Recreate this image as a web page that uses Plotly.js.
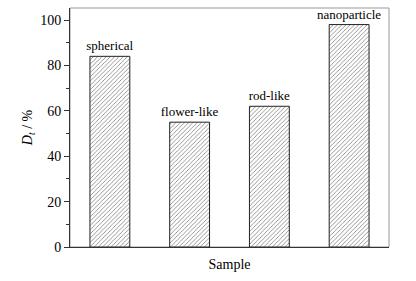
<!DOCTYPE html>
<html>
<head>
<meta charset="utf-8">
<script src="https://cdn.plot.ly/plotly-3.0.1.min.js"></script>
<style>html,body{margin:0;padding:0;background:#fff;}#chart{width:416px;height:281px;}</style>
</head>
<body>
<div id="chart"></div>
<script>
var categories = ["spherical", "flower-like", "rod-like", "nanoparticle"];
var values = [84, 55, 62, 98];
var yTickVals = [0, 20, 40, 60, 80, 100];
var yTickText = ["0", "20", "40", "60", "80", "100"];

var serif = "Times New Roman, Times, Liberation Serif, serif";

var trace = {
  type: "bar",
  x: categories,
  y: values,
  text: categories,
  textposition: "outside",
  constraintext: "none",
  textfont: {family: serif, size: 13, color: "#000"},
  cliponaxis: false,
  width: 0.5,
  marker: {
    color: "#fff",
    line: {color: "#222", width: 1},
    pattern: {shape: "/", size: 3, solidity: 0.25, fgcolor: "#777", bgcolor: "#fff"}
  },
  hoverinfo: "none"
};

var layout = {
  width: 416, height: 281,
  margin: {l: 70, r: 27, t: 8, b: 34},
  paper_bgcolor: "#fff", plot_bgcolor: "#fff",
  showlegend: false,
  font: {family: serif, size: 14, color: "#000"},
  xaxis: {
    type: "category",
    range: [-0.5, 3.5],
    showticklabels: false,
    ticks: "",
    showgrid: false,
    zeroline: false,
    showline: true, linecolor: "#333", linewidth: 1,
    title: {text: "Sample", font: {family: serif, size: 14}, standoff: 12}
  },
  yaxis: {
    range: [0, 105.3],
    tickvals: yTickVals, ticktext: yTickText,
    ticks: "outside", ticklen: 5, tickwidth: 1, tickcolor: "#333",
    minor: {dtick: 10, tick0: 0, ticks: "outside", ticklen: 3, tickcolor: "#333", showgrid: false},
    showgrid: false, zeroline: false,
    showline: true, linecolor: "#333", linewidth: 1,
    tickfont: {family: serif, size: 14},
    title: {text: "<i>D</i><sub><i>t</i></sub> / %", font: {family: serif, size: 14}, standoff: 4}
  },
  shapes: [{
    type: "rect", xref: "paper", yref: "paper", x0: 0, x1: 1, y0: 0, y1: 1,
    line: {color: "#999", width: 1}, layer: "below"
  }]
};

Plotly.newPlot("chart", [trace], layout, {staticPlot: true, displayModeBar: false});
</script>
</body>
</html>
